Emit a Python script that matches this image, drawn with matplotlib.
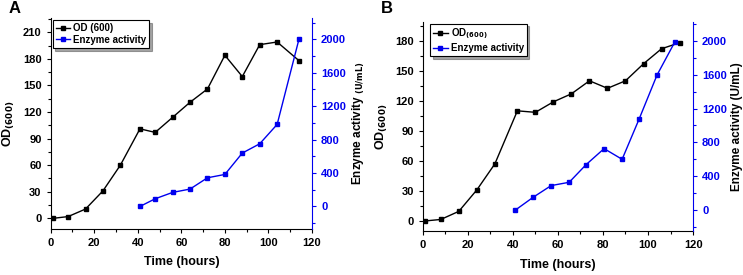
import matplotlib.pyplot as plt
from matplotlib.ticker import MultipleLocator

plt.rcParams['font.family'] = 'Liberation Sans'
plt.rcParams['font.weight'] = 'bold'
plt.rcParams['axes.labelweight'] = 'bold'
plt.rcParams['font.size'] = 8
plt.rcParams['mathtext.default'] = 'bf'

# panel A
a_od_t = [1, 8, 16, 24, 32, 41, 48, 56, 64, 72, 80, 88, 96, 104, 114]
a_od = [0, 2, 10.5, 31, 60, 101, 97, 114, 131, 146, 184, 160, 196, 199, 178]
a_enz_t = [41, 48, 56, 64, 72, 80, 88, 96, 104, 114]
a_enz = [0, 92, 168, 208, 343, 383, 639, 750, 982, 2000]

# panel B
b_od_t = [1, 8, 16, 24, 32, 42, 50, 58, 66, 74, 82, 90, 98, 106, 114]
b_od = [0, 1.5, 9.6, 31, 57, 110, 108.5, 119, 127, 140, 132.5, 140, 157, 172, 178]
b_enz_t = [41, 49, 57, 65, 72.5, 80.5, 88.5, 96, 104, 112]
b_enz = [0, 153, 291, 330, 538, 727, 601, 1073, 1595, 1990]

blue = '#0000ee'


def panel(rect, od_t, od, enz_t, enz, ylim1, ylim2, ymax_tick, od_leg, enz_lab, letter, lpos, leg_anchor):
    ax = fig.add_axes(rect)
    ax2 = ax.twinx()
    l1, = ax.plot(od_t, od, 'k-s', lw=1, ms=3.5, label=od_leg)
    l2, = ax2.plot(enz_t, enz, '-s', color=blue, lw=1, ms=3.5, label='Enzyme activity')
    ax.set_xlim(0, 120)
    ax.set_ylim(*ylim1)
    ax2.set_ylim(*ylim2)
    ax.xaxis.set_major_locator(MultipleLocator(20))
    ax.xaxis.set_minor_locator(MultipleLocator(10))
    ax.yaxis.set_minor_locator(MultipleLocator(15))
    ax.set_yticks(range(0, ymax_tick + 1, 30))
    ax2.yaxis.set_minor_locator(MultipleLocator(200))
    ax2.set_yticks(range(0, 2001, 400))
    ax.spines['top'].set_visible(False)
    ax2.spines['top'].set_visible(False)
    ax2.spines['left'].set_visible(False)
    ax2.spines['bottom'].set_visible(False)
    ax2.spines['right'].set_color(blue)
    ax.spines['right'].set_visible(False)
    ax.tick_params(which='both', direction='out', length=3, width=0.8)
    ax.tick_params(which='minor', length=2)
    ax2.tick_params(which='both', direction='out', colors=blue, length=3, width=0.8)
    ax2.tick_params(which='minor', length=2)
    ax.set_xlabel('Time (hours)', fontsize=9, labelpad=6)
    ax.set_ylabel('OD$_{(600)}$', fontsize=9, labelpad=4)
    ax2.set_ylabel(enz_lab, fontsize=8.5, labelpad=3)
    leg = ax.legend([l1, l2], [od_leg, 'Enzyme activity'], loc='upper left', bbox_to_anchor=leg_anchor,
                    fontsize=7, frameon=True, fancybox=False, shadow=True, edgecolor='k',
                    handlelength=1.5, handletextpad=0.3, borderpad=0.3, labelspacing=0.2,
                    borderaxespad=0.2)
    leg.get_frame().set_linewidth(0.8)
    fig.text(lpos[0], lpos[1], letter, fontsize=12, fontweight='bold', va='top')
    return ax


fig = plt.figure(figsize=(7.43, 2.75), dpi=100)
panel([0.0682, 0.1673, 0.3517, 0.767], a_od_t, a_od, a_enz_t, a_enz, (-12, 226), (-270, 2255), 210,
      'OD (600)', 'Enzyme activity $_{(U/mL)}$', 'A', (0.012, 0.995), (0.0, 1.0))
panel([0.569, 0.159, 0.3638, 0.762], b_od_t, b_od, b_enz_t, b_enz, (-10.3, 199), (-248, 2224), 180,
      'OD$_{(600)}$', 'Enzyme activity (U/mL)', 'B', (0.512, 0.995), (0.02, 1.0))

fig.savefig('out.png', dpi=100)
